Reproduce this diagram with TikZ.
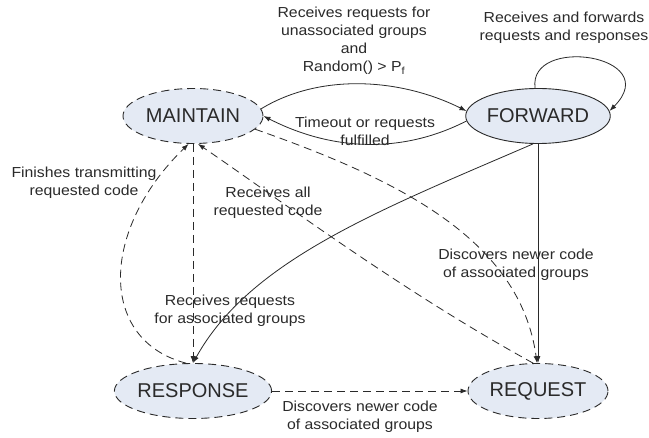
\documentclass[tikz,border=0pt]{standalone}
\usepackage{fontspec}
\setmainfont{Liberation Sans}
\newfontfamily\lblfont[FakeStretch=1.09]{Liberation Sans}
\usetikzlibrary{shapes.geometric,arrows.meta}
\definecolor{statefill}{HTML}{E4EAF4}
\definecolor{ink}{HTML}{2A2A2A}
\tikzset{
  state/.style={ellipse, draw=ink, fill=statefill, line width=0.9pt, minimum width=140pt, minimum height=55pt, inner sep=0pt, font=\fontsize{20}{22}\selectfont, text=ink},
  dstate/.style={state, dash pattern=on 8pt off 5pt},
  lbl/.style={align=center, font=\lblfont\fontsize{14.5}{18}\selectfont, text=ink, inner sep=0pt},
  conn/.style={draw=ink, line width=0.8pt, -{Latex[length=7pt,width=5pt]}},
  dconn/.style={conn, dash pattern=on 8pt off 5pt}
}
\begin{document}
\begin{tikzpicture}[x=1pt,y=-1pt]
\useasboundingbox (0,0) rectangle (649,438);
\fill[white] (0,0) rectangle (649,438);
\node[dstate] (M) at (193,116) {MAINTAIN};
\node[state]  (F) at (538,116) {FORWARD};
\node[dstate] (R) at (193,391) {RESPONSE};
\node[dstate] (Q) at (538,391) {REQUEST};

% labels
\node[lbl] (l1) at (354,41) {Receives requests for\\unassociated groups\\and\\Random() > P\textsubscript{f}};
\node[lbl] (l2) at (564,28) {Receives and forwards\\requests and responses};
\node[lbl] (l3) at (365,131) {Timeout or requests\\fulfilled};
\node[lbl] (l4) at (84,183) {Finishes transmitting\\requested code};
\node[lbl] (l5) at (268,203) {Receives all\\requested code};
\node[lbl] (l6) at (230,311) {Receives requests\\for associated groups};
\node[lbl] (l7) at (516,265) {Discovers newer code\\of associated groups};
\node[lbl] (l8) at (360,417) {Discovers newer code\\of associated groups};

% connectors
\draw[conn] (M.6) .. controls (320,73) and (400,78) .. (F.176);
\draw[conn] (F.184) .. controls (400,155) and (330,150) .. (M.east);
\draw[conn] (F.96) .. controls (528,35) and (665,55) .. (F.4);
\draw[conn] (F.-100) .. controls (380,210) and (250,260) .. (R.north);
\draw[conn] (F.south) -- (Q.north);
\draw[dconn] (M.south) -- (R.north);
\draw[dconn] (R.104) .. controls (98,340) and (100,230) .. (M.-99);
\draw[dconn] (Q.100) .. controls (400,290) and (280,200) .. (M.-80);
\draw[dconn] (M.-12) .. controls (400,180) and (520,240) .. (Q.92);
\draw[dconn] (R.east) -- (Q.west);
\end{tikzpicture}
\end{document}
